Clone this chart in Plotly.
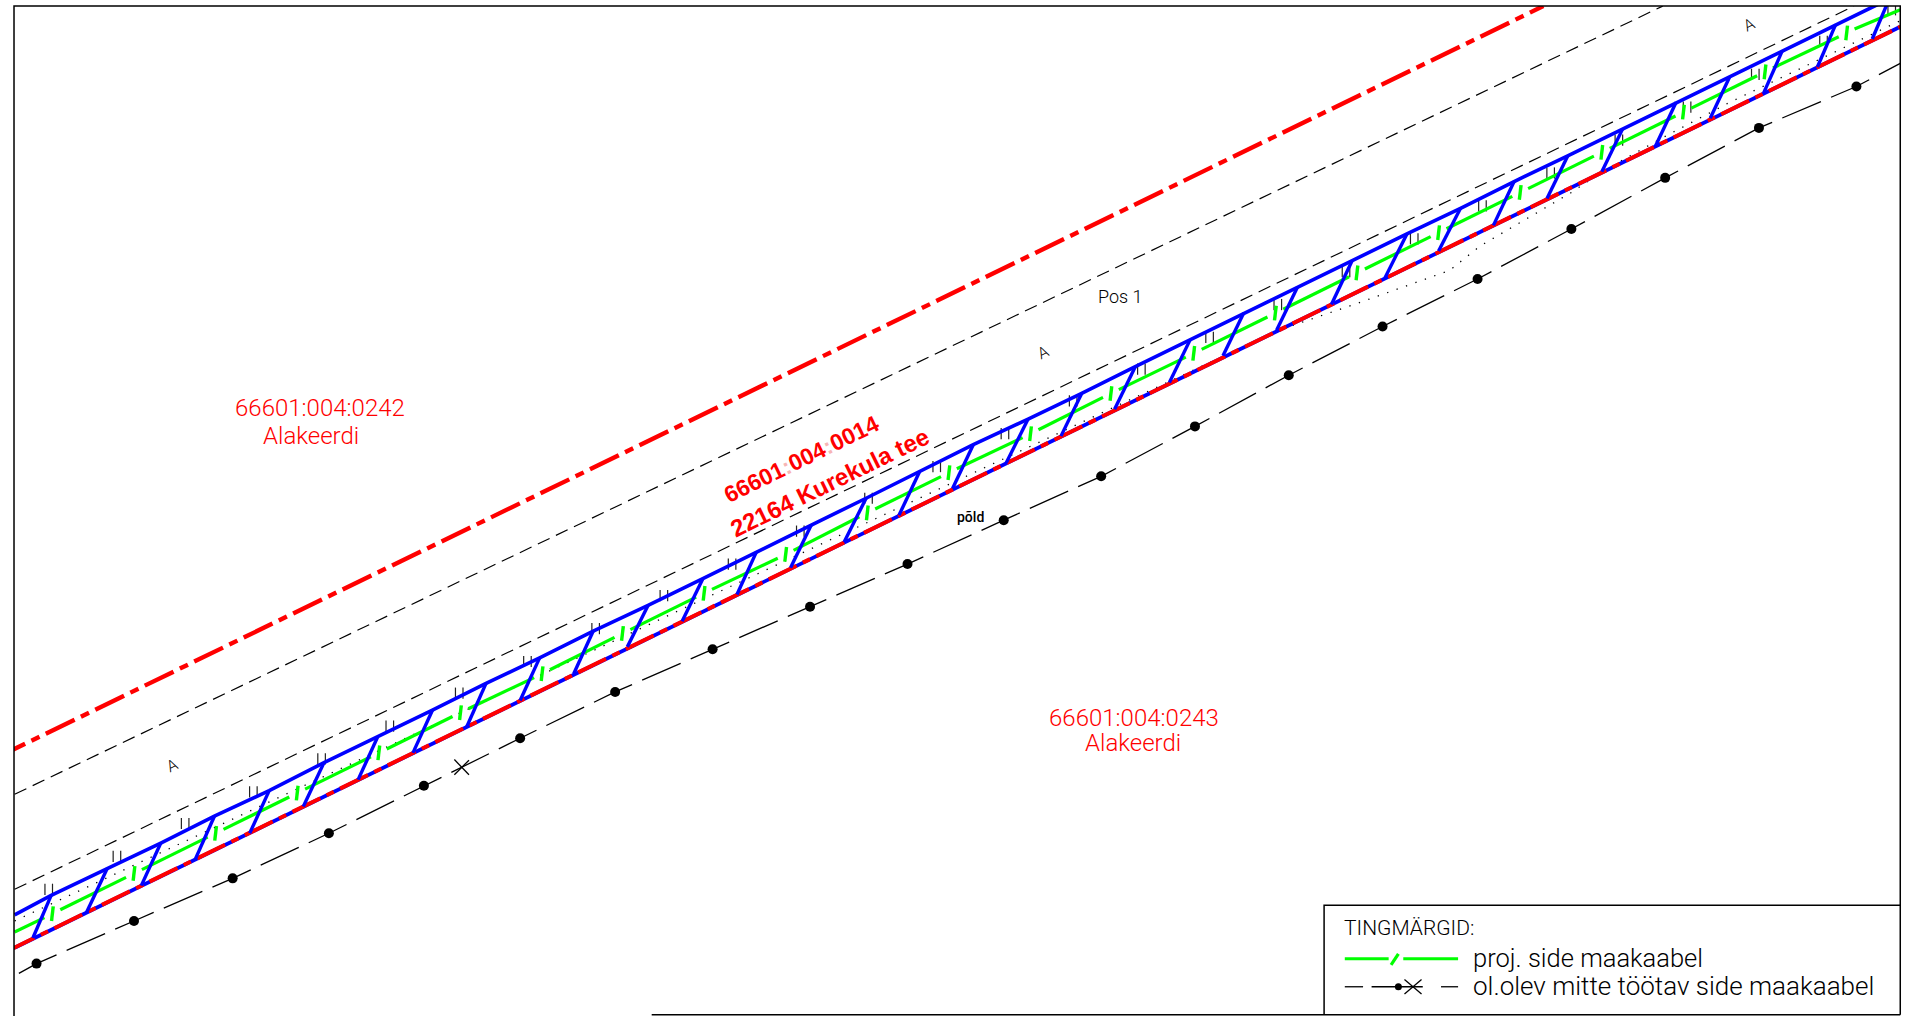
import plotly.graph_objects as go

frame_x = [11.5, 11.5, 1560, 1560]
frame_y = [834, 5, 5, 833]
base_x = [535, 1560]
base_y = [833, 833]
legend_box_x = [1560, 1087, 1087]
legend_box_y = [743, 743, 833]

boundary_x = [-3, 1267]
boundary_y = [622, 5]
road_edge1_x = [12, 1365]
road_edge1_y = [652, 5]
road_edge2_x = [12, 1522]
road_edge2_y = [730, 5]
lower_x = [5.5, 1560]
lower_y = [781, 22]
blue_low_x = [12, 1560]
blue_low_y = [778, 22]

diag_top_x = [42, 88, 132, 176, 221, 266, 310, 355, 399, 443, 487, 532, 577, 621, 666, 711, 755, 799, 844, 888, 932, 977, 1021, 1065, 1110, 1155, 1199, 1243, 1287, 1332, 1376, 1420, 1463, 1507, 1551]
diag_top_y = [735, 713, 692, 670, 649, 626, 605, 583, 561, 540, 518, 497, 475, 453, 431, 409, 387, 365, 344, 323, 301, 279, 257, 236, 214, 192, 171, 149, 128, 106, 84, 63, 42, 20, -1]
diag_bot_x = [27, 71, 116, 160, 205, 249, 294, 339, 383, 427, 471, 515, 560, 605, 649, 693, 738, 782, 826, 871, 915, 960, 1004, 1048, 1093, 1137, 1181, 1226, 1270, 1315, 1359, 1404, 1448, 1492, 1537]
diag_bot_y = [770, 749, 727, 706, 684, 662, 640, 618, 597, 575, 553, 531, 510, 488, 466, 445, 423, 401, 380, 358, 336, 314, 292, 271, 250, 228, 206, 185, 163, 141, 120, 97, 76, 55, 32]

tick_x = [43, 110, 177, 244, 311, 378, 445, 511, 578, 645, 712, 779, 846, 912, 980, 1047, 1114, 1181, 1248, 1315, 1382, 1449, 1516]
tick_y = [750, 717, 684, 651, 618, 585, 553, 520, 487, 455, 421, 388, 356, 323, 290, 257, 224, 191, 158, 125, 92, 59, 27]
green_start = (12, 765)
green_end = (1560, 8)

pair_x = [40, 96, 152, 208, 264, 320, 377, 433, 489, 545, 601, 657, 713, 769, 825, 881, 937, 993, 1049, 1105, 1161, 1217, 1273, 1329, 1385, 1441, 1497, 1553]
pair_y = [730, 703, 676, 650, 623, 596, 569, 543, 516, 489, 463, 436, 409, 383, 356, 329, 303, 277, 250, 223, 196, 169, 142, 115, 88, 61, 34, 8]

old_x = [15.5, 30, 110, 191, 270, 348, 427, 505, 585, 665, 745, 824, 904, 981, 1058, 1135, 1213, 1290, 1367, 1444, 1524, 1560]
old_y = [799, 791, 756, 721, 684, 645, 606, 568, 533, 498, 463, 427, 391, 350, 308, 268, 229, 188, 146, 105, 71, 52]
cross_x = [373, 385, None, 373, 385]
cross_y = [623.5, 636, None, 636, 624]

dotted_x = [12, 1050, 1120, 1190, 1215, 1290, 1315, 1365, 1420, 1514, 1560]
dotted_y = [756, 271, 247, 222, 202, 158, 141, 113, 84, 39, 17]

legend_green_x = [1104, 1140, None, 1142, 1148, None, 1152, 1197]
legend_green_y = [787, 787, None, 792, 783, None, 787, 787]
legend_black_x = [1104, 1119, None, 1126, 1168, None, 1183, 1197, None, 1153, 1167, None, 1153, 1167]
legend_black_y = [810, 810, None, 810, 810, None, 810, 810, None, 804, 816, None, 816, 804]

RED, BLUE, GREEN = "#ff0000", "#0000ff", "#00ff00"
INK = "#000000"
ISO = "Roboto, Liberation Sans, sans-serif"
HEAVY = "Liberation Sans, sans-serif"

fig = go.Figure()

def line(x, y, color, width, dash="solid"):
    fig.add_trace(go.Scatter(x=x, y=y, mode="lines", hoverinfo="skip", showlegend=False,
                             line=dict(color=color, width=width, dash=dash)))

# ticks pairs
px, py = [], []
for x, y in zip(pair_x, pair_y):
    px += [x - 3.1, x - 3.1, None, x + 3.1, x + 3.1, None]
    py += [y - 4.6, y + 4.6, None, y - 4.6, y + 4.6, None]
line(px, py, "#222222", 1.2)

line(dotted_x, dotted_y, INK, 1.3, "1.3px,8.7px")
line(boundary_x, boundary_y, RED, 4.4, "32px,7px,9px,7px")
line(road_edge1_x, road_edge1_y, INK, 1.2, "13px,7px")
line(road_edge2_x, road_edge2_y, INK, 1.2, "13px,7px")
line(old_x, old_y, INK, 1.3, "42px,11px")
line(cross_x, cross_y, INK, 1.3)
fig.add_trace(go.Scatter(x=old_x[1:-1], y=old_y[1:-1], mode="markers", hoverinfo="skip", showlegend=False,
                         marker=dict(color=INK, size=10)))

# green cable with gaps and ticks
gx, gy = [green_start[0]], [green_start[1]]
tx, ty = [], []
for x, y in zip(tick_x, tick_y):
    gx += [x - 6.5, None, x + 6.5]
    gy += [y + 3.2, None, y - 3.2]
    tx += [x - 0.7, x + 0.7, None]
    ty += [y + 6, y - 6, None]
gx.append(green_end[0])
gy.append(green_end[1])
line(gx, gy, GREEN, 3.2)
line(tx, ty, GREEN, 3.4)

# blue parallelograms
line(blue_low_x, blue_low_y, BLUE, 3.8)
line(lower_x, lower_y, RED, 4, "31px,7px,8px,7px")
dx, dy = [], []
for a, b, c, d in zip(diag_top_x, diag_top_y, diag_bot_x, diag_bot_y):
    dx += [a, c, None]
    dy += [b, d, None]
line(dx, dy, BLUE, 3.4)
line([12] + diag_top_x, [751] + diag_top_y, BLUE, 3.6)

line(legend_green_x, legend_green_y, GREEN, 3.2)
line(legend_black_x, legend_black_y, INK, 1.3)
fig.add_trace(go.Scatter(x=[1148], y=[810], mode="markers", hoverinfo="skip", showlegend=False,
                         marker=dict(color=INK, size=7)))

labels = [
    ("66601:004:0242", 263, 335, 24, RED, 0, "center", 300),
    ("Alakeerdi", 255, 358, 24, RED, 0, "center", 300),
    ("66601:004:0243", 931, 589, 24, RED, 0, "center", 300),
    ("Alakeerdi", 930, 610, 24, RED, 0, "center", 300),
    ("66601<span style=\"color:#f7b5b5\">:</span>004<span style=\"color:#f7b5b5\">:</span>0014", 658, 377, 23, RED, -26, "center", 700),
    ("22164 Kurekula tee", 681, 396, 24, RED, -26, "center", 700),
    ("Pos 1", 920, 243, 18, INK, 0, "center", 300),
    ("põld", 797, 424, 14, INK, 0, "center", 500),
    ("A", 141, 628, 16, INK, -26, "center", 300),
    ("A", 856, 289, 16, INK, -26, "center", 300),
    ("A", 1436, 20, 16, INK, -26, "center", 300),
    ("TINGMÄRGID:", 1102, 762, 21, INK, 0, "left", 300),
    ("proj. side maakaabel", 1208, 786, 25.5, INK, 0, "left", 300),
    ("ol.olev mitte töötav side maakaabel", 1208, 809, 26, INK, 0, "left", 300),
]
for text, x, y, size, color, angle, anchor, weight in labels:
    family = HEAVY if weight == 700 else ISO
    fig.add_annotation(x=x, y=y, text=text, showarrow=False, textangle=angle,
                       xanchor=anchor, yanchor="middle",
                       font=dict(family=family, size=size, color=color, weight=weight))

shapes = [
    dict(type="rect", x0=-5, x1=11.5, y0=-5, y1=840, fillcolor="white", line_width=0, layer="above"),
    dict(type="rect", x0=1560, x1=1575, y0=-5, y1=840, fillcolor="white", line_width=0, layer="above"),
    dict(type="rect", x0=-5, x1=1575, y0=-5, y1=5, fillcolor="white", line_width=0, layer="above"),
]
for xs, ys in [(frame_x, frame_y), (base_x, base_y), (legend_box_x, legend_box_y)]:
    path = "M" + " L".join(f"{a},{b}" for a, b in zip(xs, ys))
    shapes.append(dict(type="path", path=path, line=dict(color=INK, width=1.5), layer="above"))

fig.update_layout(
    width=1910, height=1016, margin=dict(l=0, r=0, t=0, b=0),
    paper_bgcolor="white", plot_bgcolor="white", showlegend=False, shapes=shapes,
    xaxis=dict(range=[0, 1568], visible=False, fixedrange=True),
    yaxis=dict(range=[834, 0], visible=False, fixedrange=True),
)
fig.write_html("out.html", post_script="document.body.style.margin='0';", config={"displayModeBar": False})
